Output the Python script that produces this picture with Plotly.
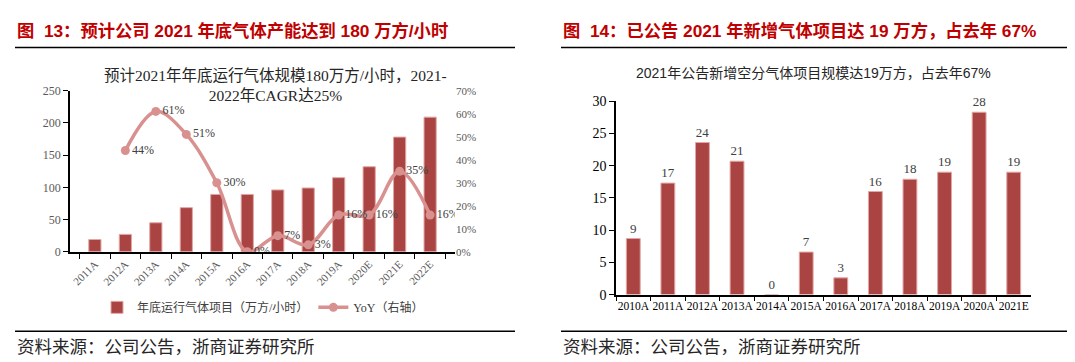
import plotly.graph_objects as go

# ---------------- data ----------------
left_years = ["2011A", "2012A", "2013A", "2014A", "2015A", "2016A",
              "2017A", "2018A", "2019A", "2020E", "2021E", "2022E"]
capacity = [19, 27, 45, 68.5, 89, 89, 96, 99, 115, 132, 178, 209]
yoy = [None, 0.44, 0.61, 0.51, 0.30, 0.0, 0.07, 0.03, 0.16, 0.16, 0.35, 0.16]

right_years = ["2010A", "2011A", "2012A", "2013A", "2014A", "2015A",
               "2016A", "2017A", "2018A", "2019A", "2020A", "2021E"]
new_projects = [8.7, 17.3, 23.6, 20.7, 0, 6.6, 2.6, 16.0, 17.9, 19.0, 28.3, 19.0]

left_header = "图  13：预计公司 2021 年底气体产能达到 180 万方/小时"
right_header = "图  14：已公告 2021 年新增气体项目达 19 万方，占去年 67%"
left_sub = "预计2021年年底运行气体规模180万方/小时，2021-<br>2022年CAGR达25%"
right_sub = "2021年公告新增空分气体项目规模达19万方，占去年67%"
source = "资料来源：公司公告，浙商证券研究所"
bar_name = "年底运行气体项目（万方/小时）"
line_name = "YoY（右轴）"

# ---------------- style ----------------
W, H = 1075, 362
BAR = "#A94442"
BAR_EDGE = "#E2A6A4"
LINE = "#D8918F"
RED = "#C00000"
SERIF = "Liberation Serif, Noto Sans CJK SC, serif"
SANS = "Liberation Sans, Noto Sans CJK SC, sans-serif"
CJK = "Noto Sans CJK SC, sans-serif"


def px(x):
    return x / W


def py(y):
    return 1 - y / H


fig = go.Figure()

fig.add_trace(go.Bar(
    x=left_years, y=capacity, name=bar_name,
    marker=dict(color=BAR, line=dict(color=BAR_EDGE, width=1)),
    width=0.4, xaxis="x", yaxis="y",
))
fig.add_trace(go.Scatter(
    x=left_years, y=yoy, name=line_name, mode="lines+markers+text",
    line=dict(color=LINE, width=3.5, shape="spline", smoothing=1.0),
    marker=dict(color=LINE, size=9),
    text=[None if v is None else f"{round(v*100)}%" for v in yoy],
    textposition="middle right",
    textfont=dict(family=SERIF, size=12, color="#404040"),
    connectgaps=False,
    xaxis="x", yaxis="y2",
))
fig.add_trace(go.Bar(
    x=right_years, y=new_projects, showlegend=False,
    marker=dict(color=BAR, line=dict(color=BAR_EDGE, width=1)),
    width=0.4, texttemplate="%{y:.0f}", textposition="outside",
    textfont=dict(family=SERIF, size=13, color="#404040"),
    cliponaxis=False,
    xaxis="x2", yaxis="y3",
))

fig.update_layout(
    width=W, height=H,
    margin=dict(l=0, r=0, t=0, b=0),
    paper_bgcolor="white", plot_bgcolor="white",
    showlegend=True,
    legend=dict(orientation="h", x=px(255), xanchor="center", y=py(305), yanchor="middle",
                font=dict(family=SERIF, size=12, color="#404040"),
                itemwidth=30, tracegroupgap=0, bgcolor="rgba(0,0,0,0)"),
    xaxis=dict(domain=[px(62), px(447)], anchor="y",
               showline=True, linecolor="black", linewidth=1.5,
               ticks="outside", tickson="boundaries", ticklen=5, tickcolor="black",
               tickangle=-45, tickfont=dict(family=SERIF, size=11, color="#595959"),
               showgrid=False),
    yaxis=dict(domain=[py(247), py(79)], anchor="x", range=[0, 250], dtick=50,
               showline=True, linecolor="black", linewidth=1.5,
               ticks="outside", ticklen=5, tickcolor="black",
               tickfont=dict(family=SERIF, size=12, color="#595959"),
               showgrid=False, zeroline=False),
    yaxis2=dict(overlaying="y", side="right", anchor="x", range=[0, 0.7], dtick=0.1,
                tickformat=".0%", showline=False, ticks="",
                tickfont=dict(family=SERIF, size=11, color="#595959"),
                showgrid=False, zeroline=False),
    xaxis2=dict(domain=[px(608), px(1023)], anchor="y3",
                showline=True, linecolor="black", linewidth=1.5,
                ticks="outside", tickson="boundaries", ticklen=5, tickcolor="black",
                tickangle=0, tickfont=dict(family=SERIF, size=11.5, color="black"),
                showgrid=False),
    yaxis3=dict(domain=[py(291.7), py(90)], anchor="x2", range=[0, 30], dtick=5,
                showline=True, linecolor="black", linewidth=1.5,
                ticks="outside", ticklen=5, tickcolor="black",
                tickfont=dict(family=SERIF, size=14, color="black"),
                showgrid=False, zeroline=False),
)

shapes = [
    dict(type="line", xref="paper", yref="paper", x0=px(7), x1=px(507), y0=py(34), y1=py(34),
         line=dict(color="black", width=1.5)),
    dict(type="line", xref="paper", yref="paper", x0=px(553), x1=1, y0=py(34), y1=py(34),
         line=dict(color="black", width=1.5)),
    dict(type="line", xref="paper", yref="paper", x0=px(7), x1=px(507), y0=py(330), y1=py(330),
         line=dict(color="black", width=1.5)),
    dict(type="line", xref="paper", yref="paper", x0=px(553), x1=1, y0=py(330), y1=py(330),
         line=dict(color="black", width=1.5)),
]
fig.update_layout(shapes=shapes)

ann = [
    dict(text=left_header, x=px(7), y=py(17), xanchor="left", yanchor="middle",
         font=dict(family=SANS, size=17.3, color=RED, weight="bold")),
    dict(text=right_header, x=px(553), y=py(17), xanchor="left", yanchor="middle",
         font=dict(family=SANS, size=17.3, color=RED, weight="bold")),
    dict(text=left_sub, x=px(267), y=py(52), xanchor="center", yanchor="top",
         font=dict(family=SERIF, size=15.5, color="#262626"), align="center"),
    dict(text=right_sub, x=px(805), y=py(60), xanchor="center", yanchor="middle",
         font=dict(family=SANS, size=14, color="#262626")),
    dict(text=source, x=px(7), y=py(345), xanchor="left", yanchor="middle",
         font=dict(family=CJK, size=17.5, color="#262626")),
    dict(text=source, x=px(553), y=py(345), xanchor="left", yanchor="middle",
         font=dict(family=CJK, size=17.5, color="#262626")),
]
for a in ann:
    a.update(xref="paper", yref="paper", showarrow=False)
fig.update_layout(annotations=ann)

fig.write_html("out.html")
